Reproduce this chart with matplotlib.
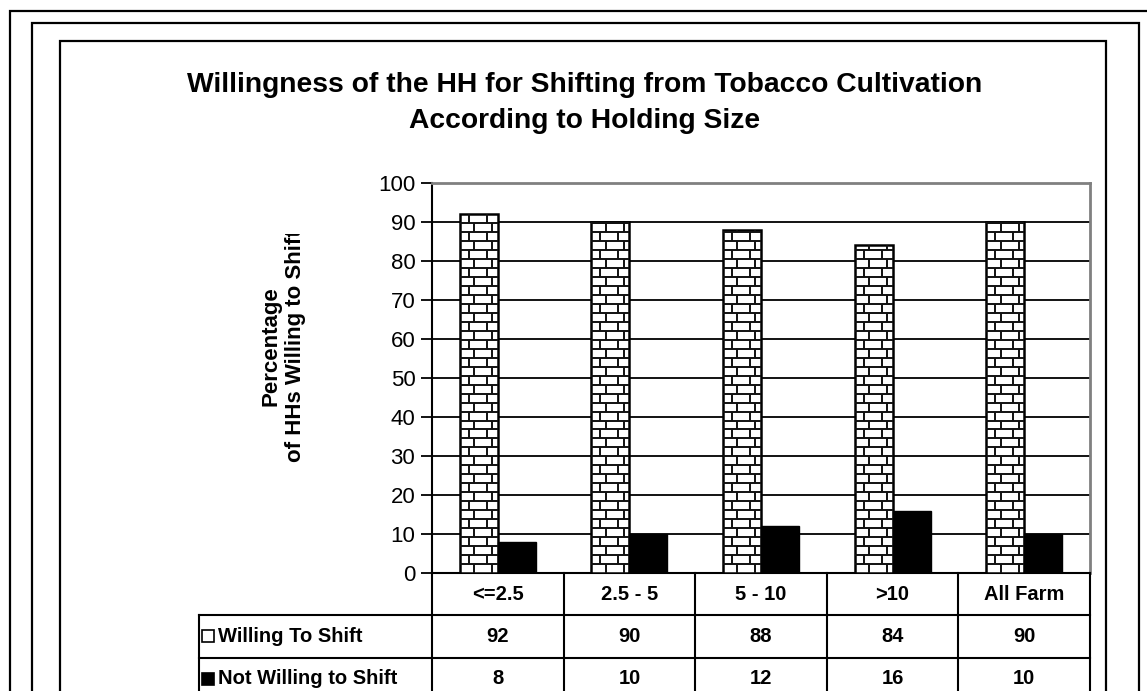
import matplotlib
matplotlib.use("Agg")
import matplotlib.pyplot as plt
import numpy as np
from matplotlib.collections import LineCollection
from matplotlib.lines import Line2D
from matplotlib.patches import Rectangle
from matplotlib.transforms import Bbox, blended_transform_factory

plt.rcParams["font.family"] = ["Liberation Sans", "DejaVu Sans"]

CATEGORIES = ["<=2.5", "2.5 - 5", "5 - 10", ">10", "All Farm"]
WILLING = [92, 90, 88, 84, 90]
NOT_WILLING = [8, 10, 12, 16, 10]
SERIES = ["Willing To Shift", "Not Willing to Shift"]
Y_TICKS = list(range(0, 101, 10))

TITLE = ("Willingness of the HH for Shifting from Tobacco Cultivation\n"
         "According to Holding Size")
Y_LABEL = "Percentage\nof HHs Willing to Shift"

W, H = 1147, 691          # canvas in pixels
GRAY = "#808080"


def fx(px):
    return px / W


def fy(py):
    return 1 - py / H


def brick_segments(x0, x1, top, row_h=2.3, brick_w=0.137):
    """Mortar lines of a running-bond brick fill inside one bar."""
    segs = []
    k = 0
    while k * row_h < top:
        y_lo = k * row_h
        y_hi = min((k + 1) * row_h, top)
        if k > 0:
            segs.append([(x0, y_lo), (x1, y_lo)])
        off = (brick_w / 2) if k % 2 else brick_w * 0.8
        xv = x0 + off
        while xv < x1 - 0.01:
            segs.append([(xv, y_lo), (xv, y_hi)])
            xv += brick_w
        k += 1
    return segs


fig = plt.figure(figsize=(W / 100, H / 100), dpi=100)

# nested frame lines around the chart
for x0, y0, x1 in [(10, 11, 1200), (32, 23, 1139), (60, 41, 1106)]:
    fig.add_artist(Rectangle((fx(x0), fy(720)), fx(x1 - x0), (720 - y0) / H,
                             transform=fig.transFigure, fill=False,
                             edgecolor="black", linewidth=1.6))

ax = fig.add_axes([fx(432), fy(573), fx(1090 - 432), (573 - 183) / H])

x = np.arange(len(CATEGORIES))
bw = 0.289
ax.bar(x - bw / 2, WILLING, width=bw, color="white", edgecolor="black",
       linewidth=1.8, zorder=3)
bricks = []
for xi, v in zip(x - bw / 2, WILLING):
    bricks += brick_segments(xi - bw / 2, xi + bw / 2, v)
ax.add_collection(LineCollection(bricks, colors="#111111", linewidths=1.4,
                                 zorder=4))
ax.bar(x + bw / 2, NOT_WILLING, width=bw, color="black", edgecolor="black",
       linewidth=1.0, zorder=3)

ax.set_xlim(-0.5, len(CATEGORIES) - 0.5)
ax.set_ylim(0, 100)
ax.set_yticks(Y_TICKS)
ax.set_xticks([])
ax.tick_params(axis="y", direction="out", length=8, width=1.3,
               labelsize=16, pad=4)
ax.yaxis.grid(True, color="black", linewidth=1.3)
ax.set_axisbelow(True)
for gl, t in zip(ax.get_ygridlines(), Y_TICKS):
    if t in (0, 100):
        gl.set_visible(False)
ax.spines["left"].set_linewidth(1.5)
ax.spines["bottom"].set_linewidth(1.5)
for side in ("top", "right"):
    ax.spines[side].set_color(GRAY)
    ax.spines[side].set_linewidth(2.0)

# title and y label (the label box is narrower than its text, so it clips)
fig.text(fx(585), fy(103), TITLE, ha="center", va="center",
         fontsize=20.3, fontweight="bold", linespacing=1.55)
ylab = fig.text(fx(283), fy(346), Y_LABEL, ha="center", va="center",
                rotation=90, fontsize=16, fontweight="bold",
                linespacing=1.2)
ylab.set_clip_box(Bbox.from_extents(0, 0, W, H - 234))
ylab.set_clip_on(True)

# data table under the plot
tr = blended_transform_factory(ax.transData, fig.transFigure)
edges = np.arange(len(CATEGORIES) + 1) - 0.5
for e in edges:
    fig.add_artist(Line2D([e, e], [fy(573), fy(720)], transform=tr,
                          color="black", linewidth=1.5))
fig.add_artist(Line2D([fx(199), fx(199)], [fy(615), fy(720)],
                      transform=fig.transFigure, color="black", linewidth=1.5))
for yy in (615, 658):
    fig.add_artist(Line2D([fx(199), fx(1090)], [fy(yy), fy(yy)],
                          transform=fig.transFigure, color="black",
                          linewidth=1.5))

row_y = [594, 636, 679]
for xi, cat in zip(x, CATEGORIES):
    fig.text(xi, fy(row_y[0]), cat, transform=tr, ha="center", va="center",
             fontsize=14.5, fontweight="bold")
for r, vals in enumerate([WILLING, NOT_WILLING], start=1):
    for xi, v in zip(x, vals):
        fig.text(xi, fy(row_y[r]), f"{v}", transform=tr, ha="center",
                 va="center", fontsize=14.5, fontweight="bold")

swatch_face = ["white", "black"]
for r, (name, face) in enumerate(zip(SERIES, swatch_face), start=1):
    fig.add_artist(Rectangle((fx(202), fy(row_y[r] + 6)), fx(12), 12 / H,
                             transform=fig.transFigure, facecolor=face,
                             edgecolor="black", linewidth=1.2))
    fig.text(fx(218), fy(row_y[r]), name, ha="left", va="center",
             fontsize=14.5, fontweight="bold")

fig.savefig("out.png", dpi=100)
